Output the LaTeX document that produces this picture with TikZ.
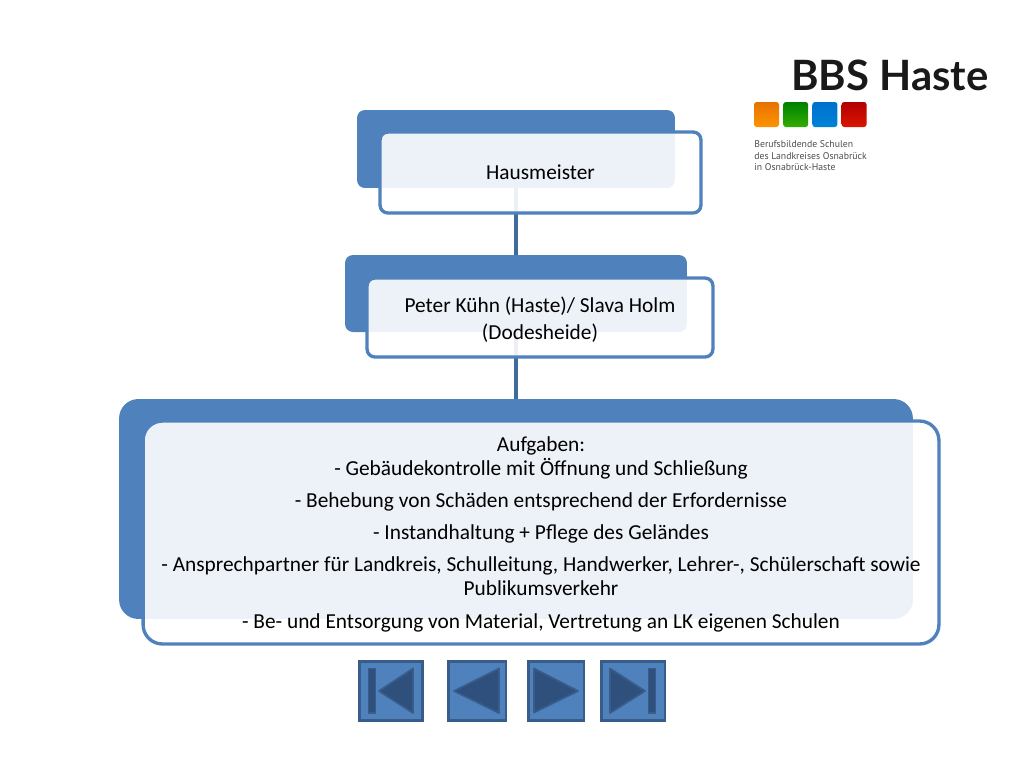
\documentclass[tikz,border=0pt]{standalone}
\usepackage{fontspec}
\setmainfont{Carlito}
\newfontfamily\logofont{Lato}
\newfontfamily\logosubfont{PT Sans}
\usetikzlibrary{positioning}
\definecolor{boxblue}{HTML}{4F81BD}
\definecolor{linkblue}{HTML}{41699B}
\definecolor{navedge}{HTML}{385D8A}
\definecolor{navdark}{HTML}{2F4F7C}

\begin{document}
\begin{tikzpicture}[x=0.02cm,y=0.02cm]
\useasboundingbox (0,0) rectangle (1024,-768);
\tikzstyle{every node}+=[inner sep=0pt]
\tikzstyle{backbox}=[fill=boxblue, rounded corners=4.5pt]
\tikzstyle{frontbox}=[draw=boxblue, line width=1.9pt, fill=white, fill opacity=0.9, text opacity=1, rounded corners=4.5pt, align=center, font=\fontsize{12.15}{15.2}\selectfont]
\tikzstyle{link}=[draw=linkblue, line width=2pt]
\tikzstyle{navbox}=[draw=navedge, line width=1.5pt, fill=boxblue, minimum height=1.18cm]
\tikzstyle{navicon}=[draw=navedge, line width=1pt, fill=navdark, line join=round]
\tikzstyle{logotile}=[rounded corners=1.5pt, minimum size=0.5cm]
% boxes at the back
\node (boss) [backbox, minimum width=6.36cm, minimum height=1.56cm] at (516,-149) {};
\node (staff) [backbox, minimum width=6.84cm, minimum height=1.54cm] at (516,-293.5) {};
\node (duty) [backbox, rounded corners=11pt, minimum width=15.88cm, minimum height=4.4cm] at (516,-509) {};
\draw [link] (boss.south) -- (staff.north);
\draw [link] (staff.south) -- (duty.north);
% boxes in front
\node (bossText) [frontbox, minimum width=6.42cm, minimum height=1.62cm] at (540.5,-172.5) {Hausmeister};
\node (staffText) [frontbox, minimum width=6.92cm, minimum height=1.58cm] at (540,-317.5) {\rule{0pt}{11pt}Peter Kühn (Haste)/ Slava Holm\\(Dodesheide)};
\node (dutyText) [frontbox, rounded corners=11pt, minimum width=15.92cm, minimum height=4.46cm] at (541,-532.5) {\rule{0pt}{11pt}Aufgaben:\\[-2pt]
- Gebäudekontrolle mit Öffnung und Schließung\\[3.5pt]
- Behebung von Schäden entsprechend der Erfordernisse\\[3pt]
- Instandhaltung + Pflege des Geländes\\[3pt]
- Ansprechpartner für Landkreis, Schulleitung, Handwerker, Lehrer-, Schülerschaft sowie\\[-1.5pt]
Publikumsverkehr\\[3.5pt]
- Be- und Entsorgung von Material, Vertretung an LK eigenen Schulen};
% navigation buttons
\node (navFirst) [navbox, minimum width=1.27cm] at (391,-691) {};
\node (navPrev) [navbox, minimum width=1.15cm, right=0.46cm of navFirst] {};
\node (navNext) [navbox, minimum width=1.11cm, right=0.4cm of navPrev] {};
\node (navLast) [navbox, minimum width=1.27cm, right=0.3cm of navNext] {};
\draw [navicon] (368.5,-668.5) rectangle (375.5,-713);
\draw [navicon] (379,-691) -- (413,-668.5) -- (413,-713) -- cycle;
\draw [navicon] (454,-691) -- (499,-668.5) -- (499,-713) -- cycle;
\draw [navicon] (534,-668.5) -- (534,-712.5) -- (578,-691) -- cycle;
\draw [navicon] (610,-668.5) -- (610,-713) -- (645,-691) -- cycle;
\draw [navicon] (648.5,-668.5) rectangle (655.5,-713);
% logo
\node (logoName) [anchor=west, text=black!90, font=\logofont\bfseries\fontsize{23.8}{24}\selectfont] at (791,-75) {BBS Haste};
\node (tileOrange) [logotile, top color=orange!90!black, bottom color=orange!85!yellow] at (766.5,-114.5) {};
\node (tileGreen) [logotile, top color=green!50!black, bottom color=green!60!black!80!yellow, right=0.07cm of tileOrange] {};
\node (tileBlue) [logotile, top color=blue!45!cyan!80!black, bottom color=cyan!60!blue!85!black, right=0.07cm of tileGreen] {};
\node (tileRed) [logotile, top color=red!70!black, bottom color=red!80!orange!85!black, right=0.07cm of tileBlue] {};
\node (logoSub) [anchor=north west, align=left, text=black!70, font=\logosubfont\fontsize{5.55}{6.5}\selectfont] at (754,-140.5) {Berufsbildende Schulen\\des Landkreises Osnabrück\\in Osnabrück-Haste};
\end{tikzpicture}
\end{document}
